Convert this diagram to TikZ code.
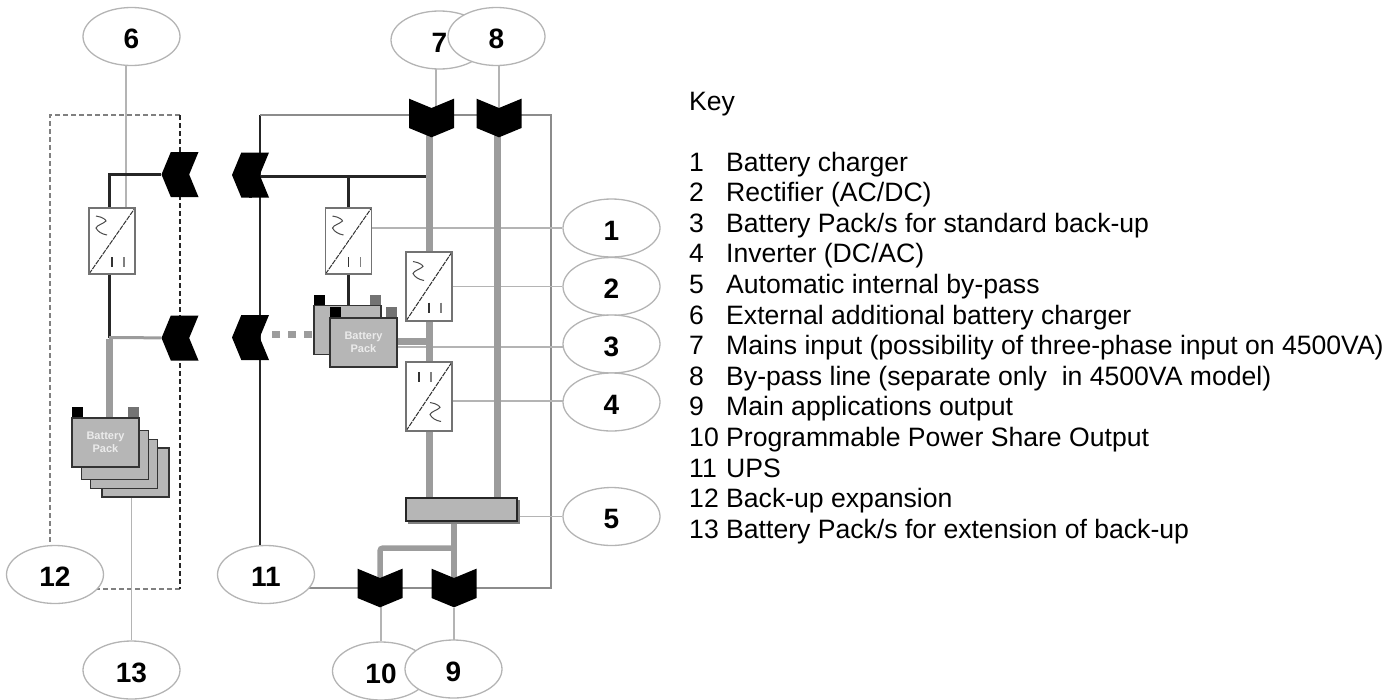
\documentclass[tikz,border=0pt]{standalone}
\usepackage{fontspec}
\setmainfont{Liberation Sans}
\usetikzlibrary{positioning,shapes.geometric,shapes.symbols,backgrounds}

\definecolor{wiregray}{HTML}{9C9C9C}
\definecolor{thingray}{HTML}{B4B4B4}
\definecolor{packgray}{HTML}{B6B6B6}

\begin{document}
\begin{tikzpicture}[x=1pt, y=-1pt,
  callout/.style={ellipse, draw=thingray, fill=white, line width=1.3pt, minimum width=97pt, minimum height=58pt, inner sep=0pt, text height=24pt, text depth=0pt, font=\fontsize{28}{28}\selectfont\bfseries},
  plugdown/.style={signal, signal from=north, signal to=south, signal pointer angle=135, fill=black, minimum width=45pt, minimum height=20pt, inner sep=0pt},
  plugleft/.style={signal, signal from=east, signal to=west, signal pointer angle=135, fill=black, minimum width=37pt, minimum height=45pt, inner sep=0pt},
  convbase/.style={rectangle, draw=black!55, fill=white, line width=1.2pt, minimum width=46pt, inner sep=0pt},
  acdc/.style={convbase, path picture={
    \draw[black!80, line width=1pt, dash pattern=on 5pt off 1pt] (path picture bounding box.south west) -- (path picture bounding box.north east);
    \draw[black!70, line width=1pt] (-16,-25) .. controls (-9,-24) and (-6,-21) .. (-6,-20) .. controls (-9,-17) and (-15,-16) .. (-16,-13) .. controls (-14,-9) and (-10,-7) .. (-5,-6);
    \draw[black!80, line width=1.3pt] (0,16) -- (0,26);
    \draw[black!50, line width=1.1pt] (12,16) -- (12,26);}},
  dcac/.style={convbase, path picture={
    \draw[black!80, line width=1pt, dash pattern=on 5pt off 1pt] (path picture bounding box.south west) -- (path picture bounding box.north east);
    \draw[black!80, line width=1.3pt] (-10,-24.5) -- (-10,-14.5);
    \draw[black!50, line width=1.1pt] (2,-24.5) -- (2,-14.5);
    \draw[black!70, line width=1pt] (1,6) .. controls (8,7) and (11,10) .. (11,11) .. controls (8,14) and (2,15) .. (1,18) .. controls (3,22) and (7,24) .. (12,25);}},
  pack/.style={rectangle, draw=black!80, fill=packgray, line width=1.2pt, minimum width=67pt, minimum height=49pt, inner sep=0pt, align=center, text=white!92!black, font=\fontsize{11}{13}\selectfont\bfseries},
  termdark/.style={rectangle, fill=black, minimum width=11pt, minimum height=10pt, inner sep=0pt},
  termgray/.style={rectangle, fill=black!55, minimum width=11pt, minimum height=10pt, inner sep=0pt},
  bypassbar/.style={rectangle, draw=black!85, fill=packgray, line width=1.5pt, minimum width=111pt, minimum height=23pt, inner sep=0pt},
  keynum/.style={anchor=base west, inner sep=0pt, font=\fontsize{26.6}{26.6}\selectfont},
  keytext/.style={anchor=base west, inner sep=0pt, font=\fontsize{26.6}{26.6}\selectfont},
  heavy/.style={draw=wiregray, line width=7pt},
  medium/.style={draw=wiregray, line width=3pt},
  busline/.style={draw=black!85, line width=3pt},
  wire/.style={draw=thingray, line width=1.7pt}]
  \useasboundingbox (0,0) rectangle (1396,699);

  % callouts
  \node[callout] (n6) at (131.5,36.5) {6};
  \node[callout] (n7) at (439.5,40) {7};
  \node[callout] (n8) at (496.5,36.5) {8};
  \node[callout] (n1) at (611.5,228) {1};
  \node[callout] (n2) at (611.5,286.5) {2};
  \node[callout] (n3) at (611.5,344) {3};
  \node[callout] (n4) at (611.5,402) {4};
  \node[callout] (n5) at (611.5,516.5) {5};
  \node[callout] (n12) at (55,574.5) {12};
  \node[callout] (n11) at (266,574.5) {11};
  \node[callout] (n13) at (131.5,670) {13};
  \node[callout] (n10) at (381,671) {10};
  \node[callout] (n9) at (453.5,669) {9};

  % connectors on the two frames
  \node[plugdown] (plugin) at (431.5,118) {};
  \node[plugdown] (plugby) at (499,118) {};
  \node[plugdown] (plugps) at (380,588) {};
  \node[plugdown] (plugout) at (454,588) {};
  \node[plugleft] (plugexta) at (180,174.5) {};
  \node[plugleft] (plugextb) at (180,338) {};
  \node[plugleft] (plugupsa) at (250.5,175) {};
  \node[plugleft] (plugupsb) at (250.5,337.5) {};

  % converters
  \node[acdc, minimum height=66pt] (chgext) at (112,241) {};
  \node[acdc, minimum height=66pt] (chgint) at (348.5,241) {};
  \node[acdc, minimum height=69pt] (rect) at (429,286.5) {};
  \node[dcac, minimum height=69pt] (inv) at (429,396.5) {};
  \node[bypassbar] (bypass) at (461.5,509.5) {};

  % internal battery
  \node[pack] (batb) at (347.5,330) {};
  \node[termdark, anchor=south west] (batbm) at (batb.north west) {};
  \node[termgray, anchor=south east] (batbp) at (batb.north east) {};
  \node[pack] (bata) at (363.5,342.5) {Battery\\Pack};
  \node[termdark, anchor=south west] (batam) at (bata.north west) {};
  \node[termgray, anchor=south east] (batap) at (bata.north east) {};

  % external battery stack
  \node[pack] (extd) at (135.5,472.5) {};
  \node[pack] (extc) at (124,464) {};
  \node[pack] (extb) at (115,455) {};
  \node[pack] (exta) at (105.5,442.5) {Battery\\Pack};
  \node[termdark, anchor=south west] (extam) at (exta.north west) {};
  \node[termgray, anchor=south east] (extap) at (exta.north east) {};

  % key
  \node[keytext] (keyhead) at (689,110) {Key};
  \node[keynum] (k1) at (689,171) {1};
  \node[keytext] (t1) at (726,171) {Battery charger};
  \node[keynum] (k2) at (689,201.6) {2};
  \node[keytext] (t2) at (726,201.6) {Rectifier (AC/DC)};
  \node[keynum] (k3) at (689,232.2) {3};
  \node[keytext] (t3) at (726,232.2) {Battery Pack/s for standard back-up};
  \node[keynum] (k4) at (689,262.8) {4};
  \node[keytext] (t4) at (726,262.8) {Inverter (DC/AC)};
  \node[keynum] (k5) at (689,293.4) {5};
  \node[keytext] (t5) at (726,293.4) {Automatic internal by-pass};
  \node[keynum] (k6) at (689,324) {6};
  \node[keytext] (t6) at (726,324) {External additional battery charger};
  \node[keynum] (k7) at (689,354.6) {7};
  \node[keytext] (t7) at (726,354.6) {Mains input (possibility of three-phase input on 4500VA)};
  \node[keynum] (k8) at (689,385.2) {8};
  \node[keytext] (t8) at (726,385.2) {By-pass line (separate only\ \ in 4500VA model)};
  \node[keynum] (k9) at (689,415.8) {9};
  \node[keytext] (t9) at (726,415.8) {Main applications output};
  \node[keynum] (k10) at (689,446.4) {10};
  \node[keytext] (t10) at (726,446.4) {Programmable Power Share Output};
  \node[keynum] (k11) at (689,477) {11};
  \node[keytext] (t11) at (726,477) {UPS};
  \node[keynum] (k12) at (689,507.6) {12};
  \node[keytext] (t12) at (726,507.6) {Back-up expansion};
  \node[keynum] (k13) at (689,538.2) {13};
  \node[keytext] (t13) at (726,538.2) {Battery Pack/s for extension of back-up};

  \coordinate (exttl) at (50,115);
  \coordinate (exttr) at (180,115);
  \coordinate (extbr) at (180,589);
  \coordinate (upstl) at (260,115);
  \coordinate (upstr) at (551,115);
  \coordinate (upsbr) at (551,588);
  \coordinate (busend) at (432,176);
  \coordinate (extjoin) at (109,337.5);
  \coordinate (psjoin) at (454,548);

  \begin{scope}[on background layer]
    % frames
    \draw[draw=black!50, line width=1.5pt, dash pattern=on 5pt off 3pt] (exttr) -- (exttl) -- (exttl |- n12);
    \draw[draw=black!50, line width=1.5pt, dash pattern=on 5pt off 3pt] (n12 |- extbr) -- (extbr);
    \draw[draw=black!85, line width=2pt, dash pattern=on 5pt off 3pt] (exttr) -- (extbr);
    \draw[draw=black!85, line width=1.8pt] (upstl |- n11) -- (upstl);
    \draw[wire, draw=black!45] (upstl) -- (upstr) -- (upsbr) -- (n11 |- upsbr);
    % callout leaders
    \draw[wire] (n6 -| 126,0) -- (chgext.north -| 126,0);
    \draw[wire] (n7 -| 436,0) -- (plugin -| 436,0);
    \draw[wire] (n8 -| plugby) -- (plugby);
    \draw[wire] (chgint.east |- n1) -- (n1);
    \draw[wire] (rect.east |- n2) -- (n2);
    \draw[wire] (bata.east |- 0,347) -- (n3 |- 0,347);
    \draw[wire] (inv.east |- 0,401) -- (n4 |- 0,401);
    \draw[wire] (bypass.east |- n5) -- (n5);
    \draw[wire] (exta -| n13) -- (n13);
    \draw[wire] (plugps -| n10) -- (n10);
    \draw[wire] (plugout) -- (n9 -| plugout);
    % power lines
    \draw[busline] (plugupsa) -- (plugupsa |- busend) -- (busend);
    \draw[busline] (chgint.north |- busend) -- (chgint.north);
    \draw[busline] (chgint.south) -- (batb.north -| chgint.south);
    \draw[busline] (plugexta) -- (plugexta -| extjoin) [rounded corners=1pt] -- (chgext.north -| extjoin);
    \draw[busline] (chgext.south -| extjoin) -- (extjoin);
    \draw[medium] (extjoin) -- (plugextb);
    \draw[heavy] ([yshift=-1.5pt]extjoin) -- (exta.north -| extjoin);
    \draw[heavy] (plugin -| rect.north) -- (rect.north);
    \draw[heavy] (rect.south) -- (inv.north);
    \draw[heavy] (inv.south) -- (bypass.north -| inv.south);
    \draw[heavy] (plugby.center -| 497,0) -- (bypass.north -| 497,0);
    \draw[heavy] (bata.east |- 0,341) -- (inv.north |- 0,341);
    \draw[draw=wiregray, line width=7pt, dash pattern=on 8pt off 8pt] (272,334) -- (bata.west |- 0,334);
    \draw[draw=wiregray, line width=6pt] (bypass.south -| plugout) -- (plugout);
    \draw[draw=wiregray, line width=5.5pt, rounded corners=3pt] (psjoin) -- (psjoin -| plugps) -- (plugps);
    % shadow of the by-pass bar
    \fill[black!50] ([shift={(2.5,2.5)}]bypass.south east) rectangle ([shift={(2.5,2.5)}]bypass.north west);
  \end{scope}
\end{tikzpicture}
\end{document}
